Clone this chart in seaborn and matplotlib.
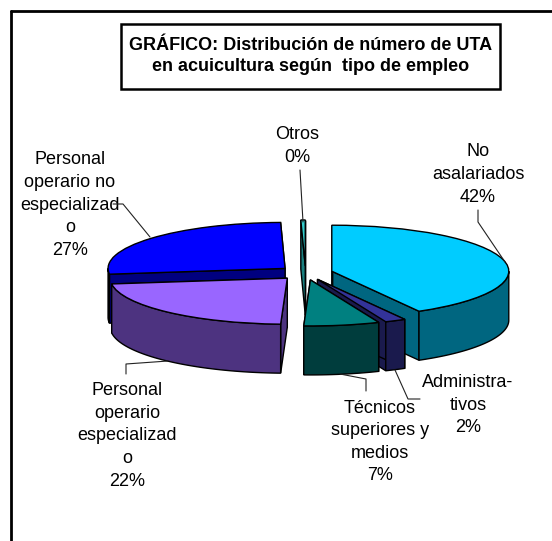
import numpy as np
import matplotlib
matplotlib.use("Agg")
import matplotlib.pyplot as plt
from matplotlib.lines import Line2D
from matplotlib.patches import Rectangle
import seaborn as sns

categories = ["No asalariados", "Administrativos", "Técnicos superiores y medios",
              "Personal operario especializado", "Personal operario no especializado", "Otros"]
values = [41.8, 1.9, 6.9, 22.4, 26.6, 0.4]
top_colors = ["#00CCFF", "#333399", "#008080", "#9966FF", "#0000FF", "#33CCCC"]
wall_colors = ["#006680", "#1A1A4D", "#003D3D", "#4D3380", "#000080", "#1A8080"]
label_texts = ["No\nasalariados\n42%", "Administra-\ntivos\n2%", "Técnicos\nsuperiores y\nmedios\n7%",
               "Personal\noperario\nespecializad\no\n22%", "Personal\noperario no\nespecializad\no\n27%",
               "Otros\n0%"]
label_px = [(478, 174.5), (468, 405), (380, 442), (127, 436), (70, 205), (297, 146)]
leaders_px = [
    [(478, 210), (478, 222), (505, 262)],
    [(395, 370), (408, 399), (420, 399)],
    [(340, 374), (366, 379), (366, 391)],
    [(126, 374), (126, 364), (168, 361)],
    [(113, 204), (123, 204), (150, 237)],
    [(300, 170), (303, 222)],
]
draw_order = [5, 4, 0, 3, 1, 2]
title_lines = "GRÁFICO: Distribución de número de UTA\nen acuicultura según  tipo de empleo"

W, H = 552, 541
CX, CY, RX, RY, DEPTH = 305.6, 273.0, 177.0, 46.0, 49.0
EXPLODE = 0.153

sns.set_theme(style="white")
plt.rcParams["font.family"] = ["Liberation Sans", "DejaVu Sans"]

fig = plt.figure(figsize=(W / 100, H / 100), dpi=100, facecolor="white")
ax = fig.add_axes([0, 0, 1, 1])
wedges, _ = ax.pie(values, colors=sns.color_palette(top_colors), startangle=90, counterclock=False,
                   explode=[EXPLODE] * len(values),
                   wedgeprops=dict(edgecolor="black", linewidth=1.0))
ax.set_aspect("auto")
ax.set_xlim((0 - CX) / RX, (W - CX) / RX)
ax.set_ylim((CY - H) / RY, CY / RY)
d = DEPTH / RY


def px(x, y):
    return x / W, 1 - y / H


for z, i in enumerate(draw_order):
    w = wedges[i]
    c = np.array(w.center)
    t1, t2 = w.theta1, w.theta2
    base = 10 + z * 5
    w.set_zorder(base + 3)
    for t in (t1, t2):
        p = c + [np.cos(np.radians(t)), np.sin(np.radians(t))]
        xs = [c[0], p[0], p[0], c[0]]
        ys = [c[1], p[1], p[1] - d, c[1] - d]
        ax.fill(xs, ys, color=wall_colors[i], ec="black", lw=1.0, zorder=base + 1)
    for k in (-360, 0, 360):
        a, b = max(t1 + k, 180), min(t2 + k, 360)
        if b > a:
            th = np.radians(np.linspace(a, b, 80))
            xs = c[0] + np.cos(th)
            ys = c[1] + np.sin(th)
            ax.fill(np.r_[xs, xs[::-1]], np.r_[ys, ys[::-1] - d],
                    color=wall_colors[i], ec="black", lw=1.0, zorder=base + 2)

fig.add_artist(Line2D([11 / W, 11 / W], [0, 1 - 11 / H], color="black", lw=2.0))
fig.add_artist(Line2D([11 / W, 1], [1 - 11 / H, 1 - 11 / H], color="black", lw=2.0))
x0, y0 = px(121, 89)
x1, y1 = px(500, 24)
fig.add_artist(Rectangle((x0, y0), x1 - x0, y1 - y0, transform=fig.transFigure,
                         fc="white", ec="black", lw=1.8))
fig.text(*px(311, 56), title_lines, ha="center", va="center", fontsize=13.0,
         fontweight="bold", color="black", linespacing=1.3)

for pts, (lx, ly), txt in zip(leaders_px, label_px, label_texts):
    xy = [px(*p) for p in pts]
    fig.add_artist(Line2D([q[0] for q in xy], [q[1] for q in xy], color="#222222", lw=0.8, zorder=50))
    fig.text(*px(lx, ly), txt, ha="center", va="center", fontsize=13.0, color="black", linespacing=1.43)

fig.savefig("out.png", dpi=100, facecolor="white")
